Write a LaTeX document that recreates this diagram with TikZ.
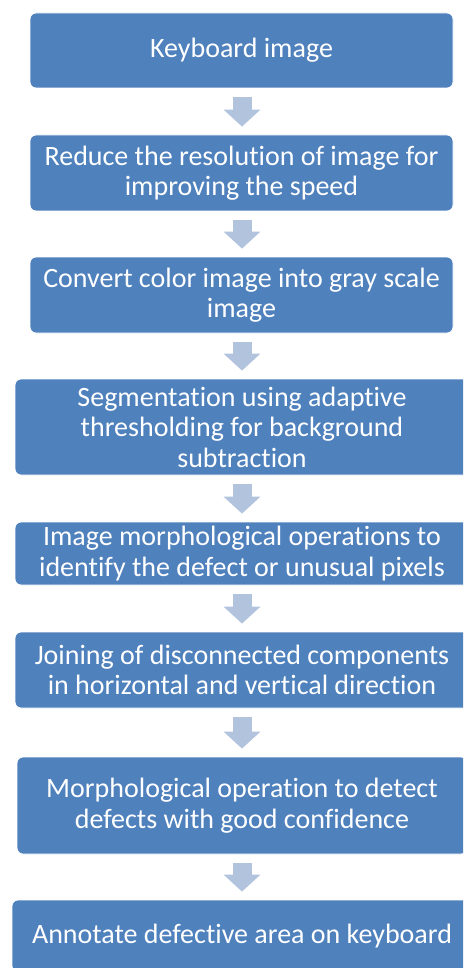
\documentclass[tikz,border=0pt]{standalone}
\usepackage{fontspec}
\setmainfont[Ligatures=NoCommon]{Carlito}
\usepackage{xcolor}
\usetikzlibrary{arrows.meta}

\definecolor{boxblue}{RGB}{79,129,189}
\definecolor{arrowblue}{RGB}{178,195,222}

\begin{document}
\begin{tikzpicture}[x=0.5pt, y=-0.5pt,
    stepbox/.style={draw=white, line width=0.4pt, fill=boxblue, rounded corners=3pt,
        text=white, align=center, inner sep=0pt,
        font=\fontsize{14pt}{15.3pt}\selectfont},
    flowarrow/.style={draw=arrowblue, line width=9.5pt,
        -{Triangle[width=18pt, length=8.5pt]},
        shorten <=4.5pt, shorten >=4pt}]
        \useasboundingbox (0,0) rectangle (463,968);
        \clip (0,0) rectangle (463,968);

        \node[stepbox, minimum width=211.5pt, minimum height=37.5pt] (s1) at (241.5,50.5) {Keyboard image};
        \node[stepbox, minimum width=211.5pt, minimum height=38pt] (s2) at (241.5,173) {Reduce the resolution of image for\\improving the speed};
        \node[stepbox, minimum width=211.5pt, minimum height=38pt] (s3) at (241.5,295) {Convert color image into gray scale\\image};
        \node[stepbox, minimum width=227pt, minimum height=48pt] (s4) at (242,427) {Segmentation using adaptive\\thresholding for background\\subtraction};
        \node[stepbox, minimum width=227pt, minimum height=31.5pt] (s5) at (242,553.5) {Image morphological operations to\\identify the defect or unusual pixels};
        \node[stepbox, minimum width=227pt, minimum height=38pt] (s6) at (242,670) {Joining of disconnected components\\in horizontal and vertical direction};
        \node[stepbox, minimum width=225pt, minimum height=48.5pt] (s7) at (242,805.5) {Morphological operation to detect\\defects with good confidence};
        \node[stepbox, minimum width=230pt, minimum height=36pt] (s8) at (242,936) {Annotate defective area on keyboard};

        \foreach \a/\b in {s1/s2, s2/s3, s3/s4, s4/s5, s5/s6, s6/s7, s7/s8}
            \draw[flowarrow] (\a.south -| 242,0) -- (\b.north -| 242,0);
    \end{tikzpicture}
\end{document}
